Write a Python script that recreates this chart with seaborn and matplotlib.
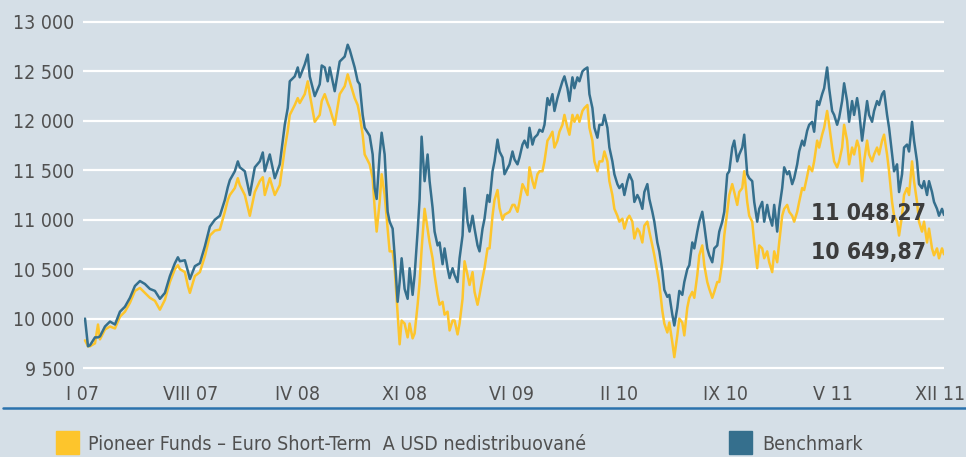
import numpy as np
import pandas as pd
import matplotlib
matplotlib.use("Agg")
import matplotlib.pyplot as plt
import seaborn as sns
from matplotlib.patches import Rectangle
from matplotlib.lines import Line2D

day = [0, 3, 5, 10, 13, 15, 20, 25, 30, 35, 40, 45, 50, 55, 60, 65, 70, 75, 80, 85, 90, 93, 95, 100, 103, 105, 110, 115, 120, 125, 130, 135,
       140, 143, 145, 150, 153, 155, 160, 165, 170, 175, 178, 180, 185, 190, 195, 200, 203, 205, 210, 213, 215, 220, 223, 225, 230, 235, 237, 240, 243, 245, 250, 255, 260, 263, 265, 270, 273, 275, 278, 280, 285, 288, 290,
       292, 295, 297, 300, 303, 305, 308, 310, 313, 315, 317, 320, 323, 325, 328, 330, 333, 335, 337, 340, 343, 345, 348, 350, 353, 355, 358, 360, 363, 365, 368, 370, 373, 375, 378, 380, 383, 385, 388, 390, 393, 395, 398, 400, 403, 405, 408, 410, 413, 415, 418, 420, 425, 428,
       430, 433, 435, 438, 440, 443, 445, 448, 450, 453, 455, 458, 460, 463, 465, 468, 470, 473, 475, 478, 480, 483, 485, 488, 490, 493, 495, 498, 500, 503, 505, 508, 510, 513, 515, 518, 520, 523, 525, 528, 530, 533, 535, 538, 540, 543, 545, 548, 550, 553, 555, 558, 560, 563, 565, 568, 570, 573,
       575, 578, 580, 583, 585, 588, 590, 593, 595, 598, 600, 603, 605, 608, 610, 613, 615, 618, 620, 623, 625, 628, 630, 633, 635, 638, 640, 643, 645, 648, 650, 653, 655, 658, 660, 663, 665, 668, 670, 673, 675, 678, 680, 683, 685, 688, 690, 693, 695, 698, 700, 703, 705, 708, 710, 713, 715, 718, 720, 723, 725,
       728, 730, 733, 735, 738, 740, 743, 745, 748, 750, 753, 755, 758, 760, 763, 765, 768, 770, 773, 775, 778, 780, 783, 785, 788, 790, 793, 795, 798, 800, 803, 805, 808, 810, 813, 815, 818, 820, 823, 825, 828, 830, 833, 835, 838, 840, 843, 845, 848, 850, 853, 855, 858, 860]

bench = [10000, 9720, 9730, 9810, 9810, 9820, 9920, 9970, 9940, 10070, 10120, 10210, 10330, 10380, 10350, 10300, 10280, 10200, 10260, 10430, 10560, 10620, 10580, 10590, 10480, 10400, 10530, 10560, 10730, 10930, 11000, 11040,
         11200, 11330, 11400, 11490, 11590, 11530, 11490, 11250, 11530, 11590, 11680, 11490, 11660, 11420, 11560, 11960, 12130, 12400, 12450, 12540, 12440, 12570, 12670, 12450, 12250, 12370, 12560, 12540, 12400, 12540, 12300, 12600, 12650, 12770, 12720, 12540, 12400, 12370, 12060, 11930, 11850, 11660, 11320,
         11210, 11660, 11880, 11660, 11080, 10980, 10910, 10640, 10170, 10370, 10610, 10300, 10200, 10510, 10240, 10440, 10880, 11210, 11840, 11390, 11660, 11390, 11120, 10880, 10740, 10770, 10550, 10710, 10510, 10410, 10510, 10440, 10370, 10610, 10840, 11320, 10980, 10880, 11040, 10910, 10740, 10680, 10910, 11010, 11250, 11180, 11490, 11590, 11810, 11690, 11630, 11460, 11560, 11690,
         11610, 11560, 11630, 11760, 11800, 11730, 11930, 11760, 11830, 11860, 11910, 11890, 11960, 12230, 12160, 12270, 12100, 12230, 12300, 12400, 12450, 12330, 12200, 12440, 12330, 12440, 12400, 12500, 12520, 12540, 12270, 12130, 11930, 11830, 11960, 11960, 12060, 11930, 11730, 11590, 11460, 11360, 11320, 11360, 11250, 11390, 11460, 11390, 11180, 11250, 11210, 11110, 11280, 11360, 11210, 11080, 10980, 10770,
         10680, 10480, 10290, 10220, 10240, 10040, 9930, 10110, 10280, 10240, 10370, 10500, 10540, 10770, 10710, 10880, 10980, 11080, 10940, 10710, 10640, 10570, 10710, 10740, 10880, 10980, 11080, 11460, 11490, 11730, 11800, 11590, 11660, 11730, 11860, 11460, 11420, 11390, 11180, 10980, 11110, 11180, 10980, 11150, 11040, 10940, 11150, 10880, 11110, 11320, 11530, 11460, 11490, 11360, 11420, 11560, 11690, 11800, 11750, 11900, 11960,
         11990, 11890, 12200, 12160, 12270, 12330, 12540, 12330, 12100, 12060, 11960, 12030, 12200, 12380, 12200, 11990, 12200, 12060, 12230, 12100, 11800, 11960, 12200, 12060, 11990, 12100, 12200, 12160, 12270, 12300, 12060, 11930, 11660, 11490, 11560, 11280, 11460, 11730, 11760, 11690, 11990, 11800, 11590, 11360, 11320, 11390, 11250, 11390, 11280, 11180, 11110, 11040, 11110, 11048.27]

fund = [9780, 9720, 9720, 9750, 9940, 9790, 9890, 9920, 9900, 10020, 10070, 10160, 10280, 10310, 10260, 10210, 10180, 10090, 10190, 10370, 10500, 10540, 10500, 10470, 10330, 10260, 10430, 10470, 10630, 10840, 10890, 10900,
        11080, 11200, 11250, 11320, 11420, 11350, 11250, 11040, 11280, 11390, 11430, 11250, 11420, 11250, 11350, 11720, 11900, 12060, 12160, 12230, 12180, 12270, 12400, 12270, 11990, 12060, 12200, 12270, 12180, 12130, 11960, 12270, 12350, 12470, 12400, 12230, 12160, 12060, 11860, 11660, 11560, 11420, 11120,
        10880, 11180, 11460, 11250, 10910, 10680, 10680, 10510, 10040, 9740, 9980, 9950, 9810, 9950, 9800, 9850, 10140, 10370, 10700, 11110, 10910, 10770, 10610, 10440, 10240, 10140, 10170, 10040, 10070, 9880, 9980, 9980, 9840, 9950, 10200, 10580, 10440, 10340, 10470, 10270, 10140, 10240, 10410, 10510, 10710, 10710, 11040, 11200, 11300, 11120, 11000, 11050, 11080, 11150,
        11150, 11080, 11180, 11360, 11320, 11250, 11530, 11390, 11320, 11460, 11490, 11490, 11590, 11800, 11830, 11890, 11730, 11800, 11890, 11960, 12060, 11930, 11860, 12060, 11990, 12060, 11990, 12100, 12130, 12160, 11930, 11800, 11590, 11490, 11590, 11590, 11690, 11590, 11390, 11250, 11110, 11040, 10980, 11010, 10910, 11010, 11040, 10980, 10810, 10910, 10880, 10770, 10940, 10980, 10880, 10740, 10640, 10470,
        10350, 10080, 9950, 9860, 9960, 9760, 9610, 9830, 10000, 9960, 9830, 10110, 10210, 10270, 10210, 10440, 10640, 10740, 10540, 10370, 10300, 10210, 10270, 10370, 10370, 10570, 10840, 11080, 11250, 11360, 11280, 11150, 11280, 11320, 11490, 11180, 11040, 10980, 10770, 10510, 10740, 10710, 10610, 10680, 10570, 10470, 10680, 10570, 10770, 11040, 11110, 11150, 11080, 11040, 10980, 11080, 11180, 11320, 11300, 11440, 11540,
        11490, 11590, 11800, 11730, 11860, 11930, 12100, 11960, 11730, 11590, 11530, 11590, 11730, 11960, 11800, 11560, 11730, 11660, 11800, 11730, 11390, 11590, 11800, 11660, 11590, 11660, 11730, 11660, 11800, 11860, 11660, 11490, 11180, 11040, 10980, 10840, 11040, 11250, 11320, 11250, 11590, 11390, 11180, 10980, 10880, 10980, 10770, 10910, 10710, 10640, 10710, 10610, 10710, 10649.87]

tick_labels = ["I 07", "VIII 07", "IV 08", "XI 08", "VI 09", "II 10", "IX 10", "V 11", "XII 11"]
yticks = [9500, 10000, 10500, 11000, 11500, 12000, 12500, 13000]
fund_name = "Pioneer Funds \u2013 Euro Short-Term  A USD nedistribuované"
bench_name = "Benchmark"

bg = "#d5dfe7"
c_fund = "#fdc52c"
c_bench = "#356f8d"
txt = "#505050"

sns.set_style("darkgrid", {"axes.facecolor": bg, "figure.facecolor": bg,
                           "grid.color": "white", "axes.edgecolor": bg})
plt.rcParams["font.family"] = ["DejaVu Sans"]
plt.rcParams["font.stretch"] = "condensed"

df = pd.DataFrame({"day": day * 2,
                   "value": fund + bench,
                   "series": [fund_name] * len(fund) + [bench_name] * len(bench)})

fig = plt.figure(figsize=(9.66, 4.57), dpi=100)
ax = fig.add_axes([83 / 966, 87 / 457, 861 / 966, 350 / 457])
sns.lineplot(data=df, x="day", y="value", hue="series",
             palette={fund_name: c_fund, bench_name: c_bench},
             hue_order=[fund_name, bench_name], linewidth=1.8, legend=False, ax=ax)

ax.set_xlim(-2, 860)
ax.set_ylim(9480, 13020)
ax.set_xticks(np.linspace(-2, 856, len(tick_labels)))
ax.set_xticklabels(tick_labels)
ax.set_yticks(yticks)
ax.set_yticklabels([f"{v:,}".replace(",", " ") for v in yticks])
ax.xaxis.grid(False)
ax.yaxis.grid(True, linewidth=1.6)
ax.tick_params(axis="both", length=0, labelsize=14, labelcolor=txt)
ax.tick_params(axis="x", pad=11)
ax.tick_params(axis="y", pad=6)
ax.set_xlabel("")
ax.set_ylabel("")
for s in ax.spines.values():
    s.set_visible(False)

# end values
for v, lab in [(bench[-1], "11 048,27"), (fund[-1], "10 649,87")]:
    ax.text(842, v + 18, lab, ha="right", va="center", fontsize=16.5,
            fontweight="bold", color="#3c3c3c")

# separator line and legend below
fig.add_artist(Line2D([0.003, 1.0], [1 - 408 / 457] * 2, color="#2b72ad", lw=1.8))
fig.patches.append(Rectangle((56 / 966, 3 / 457), 23 / 966, 23 / 457,
                             transform=fig.transFigure, color=c_fund, figure=fig))
fig.patches.append(Rectangle((729 / 966, 3 / 457), 23 / 966, 23 / 457,
                             transform=fig.transFigure, color=c_bench, figure=fig))
fig.text(88 / 966, 1 - 445 / 457, fund_name, fontsize=14, color=txt, va="center")
fig.text(762 / 966, 1 - 445 / 457, bench_name, fontsize=14, color=txt, va="center")

fig.savefig("out.png", dpi=100, facecolor=bg)
